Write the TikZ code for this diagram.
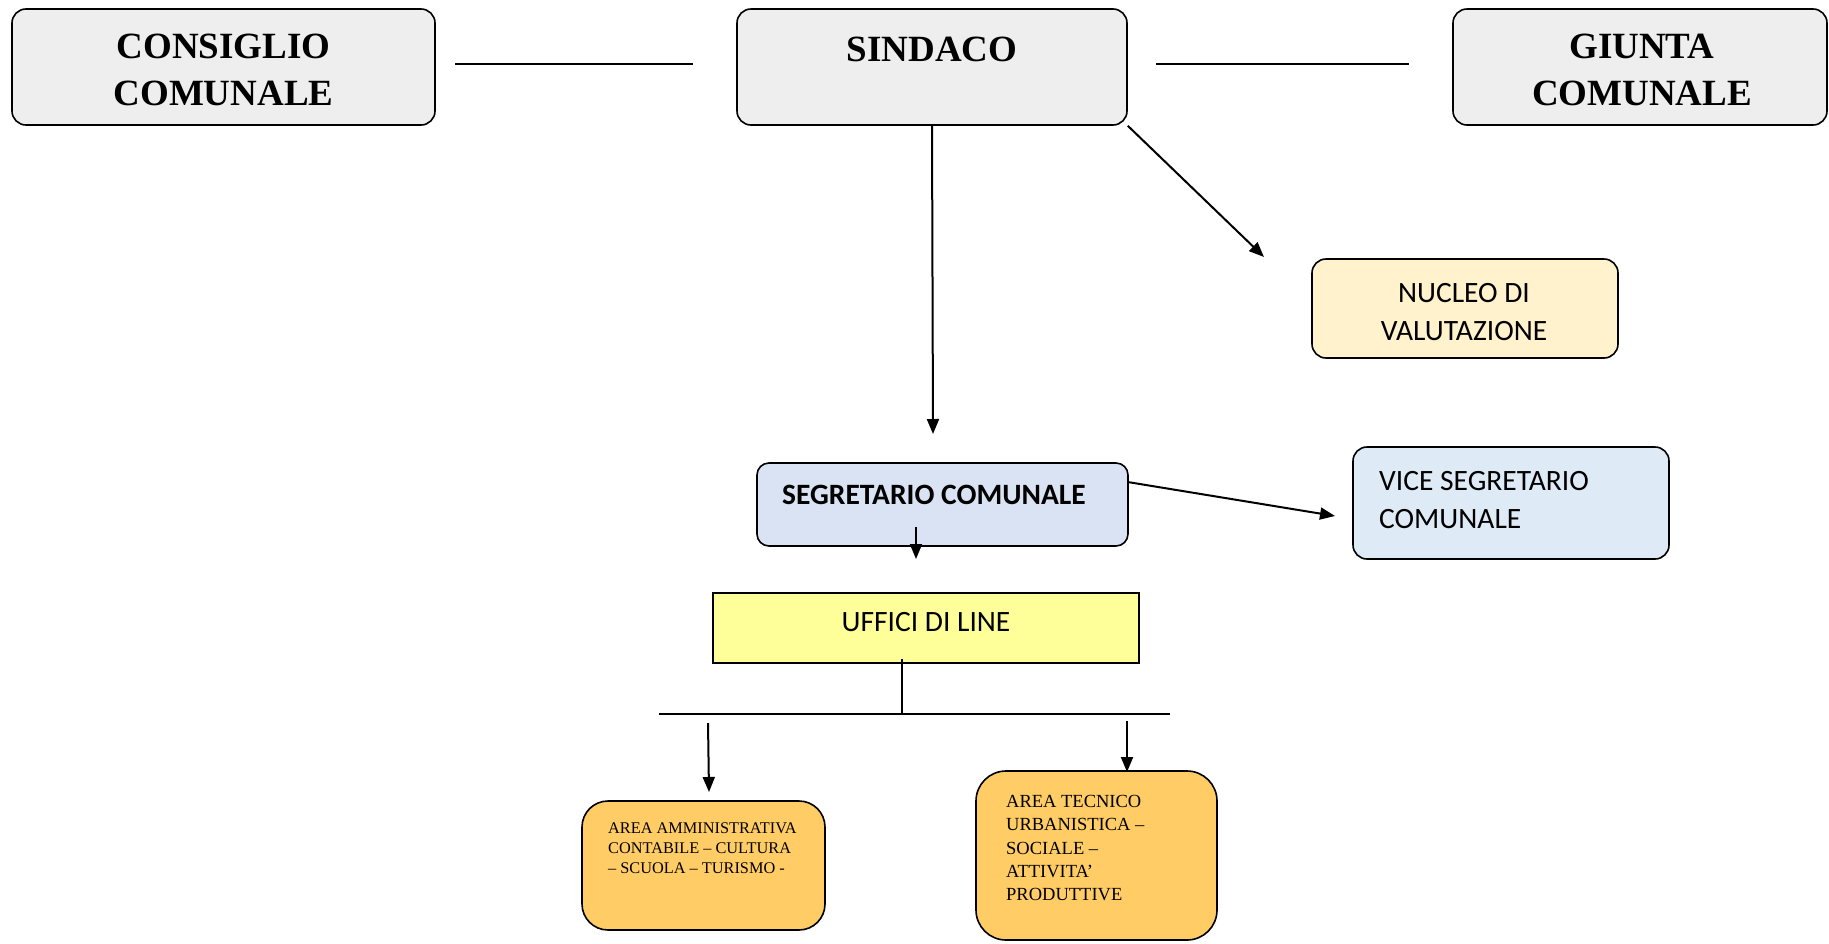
\documentclass[tikz,border=0pt]{standalone}
\usepackage{fontspec}
\setmainfont{Liberation Serif}
\newfontfamily\calib{Carlito}
\usetikzlibrary{arrows.meta}
\definecolor{topgray}{HTML}{EEEEEE}
\definecolor{nucleofill}{HTML}{FFF2CC}
\definecolor{segrfill}{HTML}{DAE3F3}
\definecolor{vicefill}{HTML}{DEEBF7}
\definecolor{uffill}{HTML}{FFFF99}
\definecolor{areafill}{HTML}{FFCC66}
\begin{document}
\begin{tikzpicture}[x=1pt,y=-1pt,
  box/.style={draw=black,line width=1.6pt,rounded corners=14pt,inner sep=0pt},
  topbox/.style={box,fill=topgray,minimum height=116pt},
  toptext/.style={font=\fontsize{37}{47}\selectfont\bfseries,align=center,inner sep=0pt},
  caltext/.style={font=\calib\fontsize{29.5}{38.5}\selectfont,inner sep=0pt},
  conn/.style={line width=2pt,-{Triangle[length=15pt,width=12pt]}},
  plain/.style={line width=1.8pt},
  thin/.style={line width=1.3pt}]
\useasboundingbox (0,0) rectangle (1829,943);
% top row
\node[topbox,minimum width=423pt] (consiglio) at (223.5,67) {};
\node[toptext] (consigliot) at (223.5,70) {CONSIGLIO\\COMUNALE};
\node[topbox,minimum width=390pt] (sindaco) at (932,67) {};
\node[toptext] (sindacot) at (932,49) {SINDACO};
\node[topbox,minimum width=374pt] (giunta) at (1640,67) {};
\node[toptext] (giuntat) at (1642,70) {GIUNTA\\COMUNALE};
\coordinate (l1a) at (455,64);
\coordinate (l1b) at (693,64);
\coordinate (l2a) at (1156,64);
\coordinate (l2b) at (1409,64);
\draw[plain] (l1a) -- (l1b);
\draw[plain] (l2a) -- (l2b);
% nucleo
\node[box,fill=nucleofill,minimum width=306pt,minimum height=99pt] (nucleo) at (1465,308.5) {};
\node[caltext,align=center] (nucleot) at (1464,312) {NUCLEO DI\\VALUTAZIONE};
% segretario
\node[box,rounded corners=12pt,fill=segrfill,minimum width=371pt,minimum height=83pt] (segr) at (942.5,504.5) {};
\node[caltext,font=\calib\fontsize{29.5}{30}\selectfont\bfseries,anchor=west] (segrt) at (782,495) {SEGRETARIO COMUNALE};
% vice
\node[box,fill=vicefill,minimum width=316pt,minimum height=112pt] (vice) at (1511,503) {};
\node[caltext,align=left,anchor=west] (vicet) at (1379,500) {VICE SEGRETARIO\\COMUNALE};
% uffici
\node[draw=black,line width=1.5pt,fill=uffill,minimum width=426pt,minimum height=70pt,inner sep=0pt] (uffici) at (926,628) {};
\node[caltext] (ufficit) at (926,622) {UFFICI DI LINE};
% areas
\node[box,rounded corners=26pt,fill=areafill,minimum width=243pt,minimum height=129pt] (amm) at (703.5,865.5) {};
\node[font=\fontsize{16.3}{20}\selectfont,align=left,anchor=north west,inner sep=0pt] (ammt) at (608,822) {AREA AMMINISTRATIVA\\CONTABILE -- CULTURA\\-- SCUOLA -- TURISMO -};
\node[box,rounded corners=30pt,fill=areafill,minimum width=241pt,minimum height=169pt] (tec) at (1096.5,855.5) {};
\node[font=\fontsize{18.5}{23.3}\selectfont,align=left,anchor=north west,inner sep=0pt] (tect) at (1006,795) {AREA TECNICO\\URBANISTICA --\\SOCIALE --\\ATTIVITA'\\PRODUTTIVE};
% connectors
\coordinate (a1) at (933,434);
\draw[conn] (sindaco.south) -- (a1);
\coordinate (a2) at (1264,257);
\draw[conn] (sindaco.south east) -- (a2);
\coordinate (a3) at (1335,516);
\draw[conn] (segr.north east) ++(0,20) coordinate (s1) -- (a3);
\coordinate (c1) at (916,527);
\coordinate (c2) at (916,559);
\draw[conn] (c1) -- (c2);
\coordinate (u1) at (902,659);
\coordinate (u2) at (902,715);
\draw[thin] (u1) -- (u2);
\coordinate (bl) at (659,714);
\coordinate (br) at (1170,714);
\draw[thin] (bl) -- (br);
\coordinate (d1) at (708,723);
\coordinate (d2) at (709,792);
\draw[conn] (d1) -- (d2);
\coordinate (e1) at (1127,721);
\coordinate (e2) at (1127,772);
\draw[conn] (e1) -- (e2);
\end{tikzpicture}
\end{document}
